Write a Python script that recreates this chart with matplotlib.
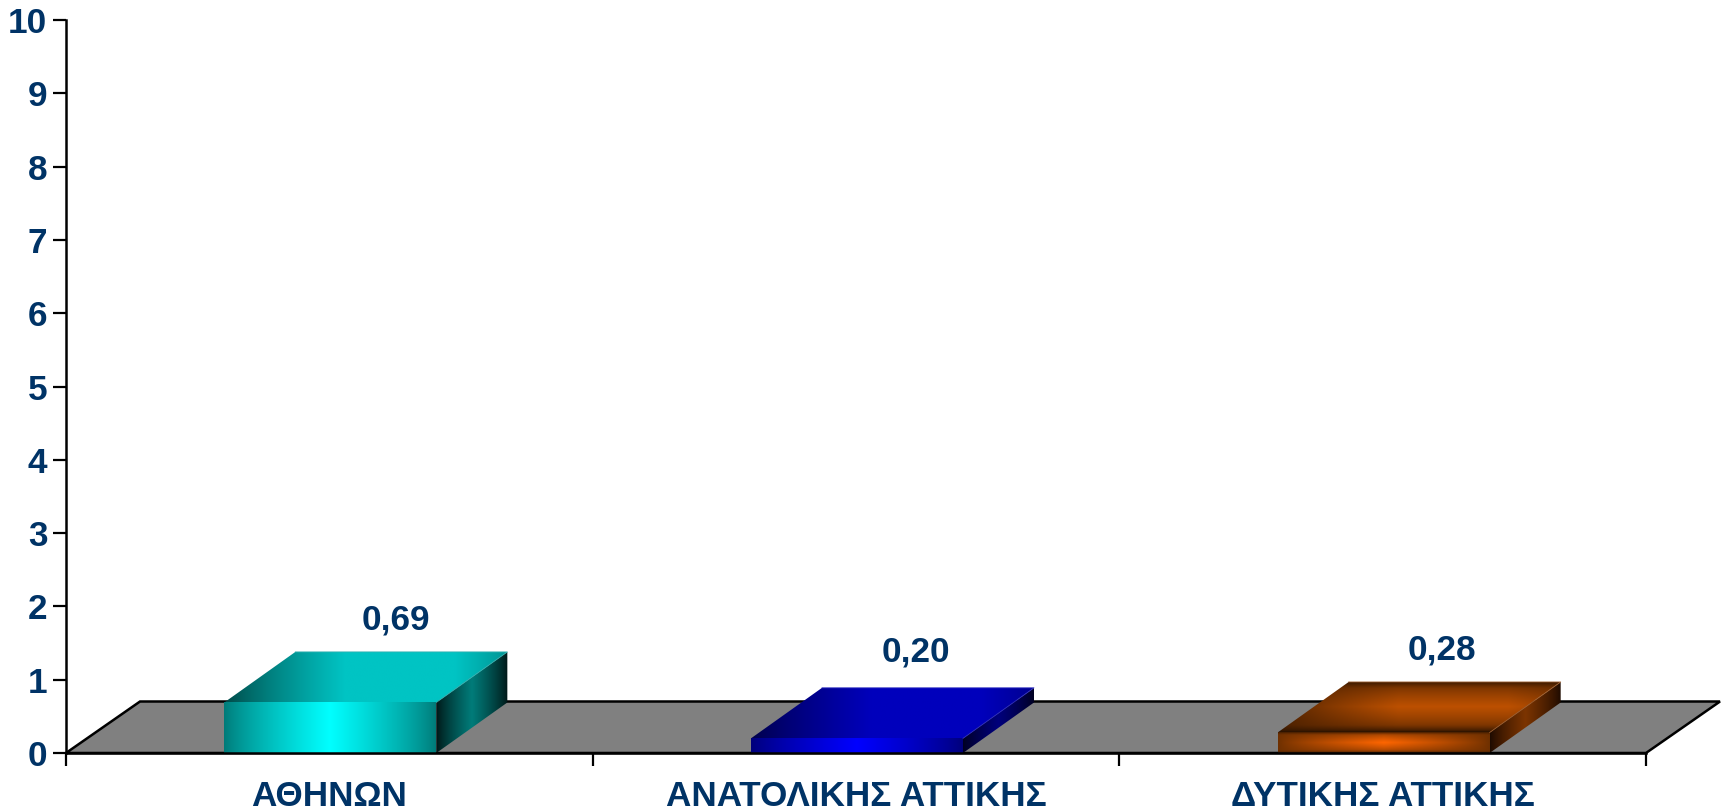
import numpy as np
import matplotlib
matplotlib.use('Agg')
import matplotlib.pyplot as plt
from matplotlib.patches import Polygon
from matplotlib.colors import to_rgb

categories = ['ΑΘΗΝΩΝ', 'ΑΝΑΤΟΛΙΚΗΣ ΑΤΤΙΚΗΣ', 'ΔΥΤΙΚΗΣ ΑΤΤΙΚΗΣ']
values = [0.69, 0.20, 0.28]
value_labels = ['0,69', '0,20', '0,28']
y_ticks = list(range(0, 11))

W, H = 1726, 811
NAVY = '#003366'

# edge and middle colours of each face, (front, top, side)
front_cols = [('#007a78', '#00ffff'), ('#00007a', '#0000ff'), ('#6e3000', '#ff6600')]
top_cols = [('#004644', '#00c4c4'), ('#000048', '#0000bc'), ('#4a2000', '#bc5000')]
side_cols = [('#001414', '#007c7a'), ('#000020', '#00007c'), ('#1c0a00', '#7c3400')]
edge_cols = ['#33b0b0', '#3030c0', '#a06030']
# only the orange bar also darkens top to bottom
vertical_dark = [False, False, True]

plt.rcParams['font.family'] = ['Liberation Sans', 'DejaVu Sans']

fig = plt.figure(figsize=(W / 100, H / 100), dpi=100)
ax = fig.add_axes([66 / W, 1 - 753 / H, 1580 / W, 733 / H])
ax.set_facecolor('none')
ax.set_xlim(0, 3)
ax.set_ylim(0, 10)

px = 3 / 1580
py = 10 / 733
bar_w = 212 * px
depth_x, depth_y = 71 * px, 50.5 * py
floor_x, floor_y = 74 * px, 51.5 * py
FS = 25.3


def gradient_face(corners, edge, mid, vertical=False, peak=0.5, flat=1.0, z=3):
    xs = [c[0] for c in corners]
    ys = [c[1] for c in corners]
    t = np.linspace(0, 1, 256)
    h = np.clip(1 - np.abs(t - peak) / max(peak, 1 - peak), 0, 1) ** 0.8
    h = np.minimum(h * flat, 1)
    h = np.tile(h, (128, 1))
    if vertical:
        v = np.linspace(0, 1, 128)
        v = np.clip(1 - np.abs(v - 0.5) * 2, 0, 1) ** 0.6
        h = h * v[:, None]
    e, m = np.array(to_rgb(edge)), np.array(to_rgb(mid))
    img = e + (m - e) * h[..., None]
    if vertical:
        img = img * (0.55 + 0.45 * np.minimum(v * 2.2, 1))[:, None, None]
    im = ax.imshow(img, extent=(min(xs), max(xs), min(ys), max(ys)), aspect='auto',
                   interpolation='bilinear', origin='lower', zorder=z)
    poly = Polygon(corners, closed=True, transform=ax.transData, fill=False, lw=0)
    im.set_clip_path(poly)
    im.set_clip_box(fig.bbox)


# floor
floor = Polygon([(0, 0), (3, 0), (3 + floor_x, floor_y), (floor_x, floor_y)], closed=True,
                facecolor='#808080', edgecolor='black', lw=1.8, clip_on=False, zorder=1,
                joinstyle='miter')
ax.add_patch(floor)

for i, val in enumerate(values):
    x0 = i + 0.5 - bar_w / 2 + 1 * px
    x1 = x0 + bar_w
    gradient_face([(x0, val), (x1, val), (x1 + depth_x, val + depth_y), (x0 + depth_x, val + depth_y)],
                  top_cols[i][0], top_cols[i][1], vertical_dark[i], peak=0.62, flat=1.35)
    gradient_face([(x1, 0), (x1 + depth_x, depth_y), (x1 + depth_x, val + depth_y), (x1, val)],
                  side_cols[i][0], side_cols[i][1])
    gradient_face([(x0, 0), (x1, 0), (x1, val), (x0, val)],
                  front_cols[i][0], front_cols[i][1], vertical_dark[i])
    # thin lit edge along the back and the right of the top face
    ax.plot([x0 + depth_x, x1 + depth_x, x1], [val + depth_y, val + depth_y, val],
            color=edge_cols[i], lw=0.6, clip_on=False, zorder=4)

# labels sit up and to the right of the bar, as the 3D chart had them
shift_px = [67, 60, 59]
gap_px = [32, 36, 32]
for i, val in enumerate(values):
    ax.text(i + 0.5 + shift_px[i] * px, val + depth_y + gap_px[i] * py, value_labels[i], ha='center',
            va='center', color=NAVY, fontsize=FS, fontweight='bold', clip_on=False, zorder=6)

for s in ['top', 'right']:
    ax.spines[s].set_visible(False)
for s in ['left', 'bottom']:
    ax.spines[s].set_linewidth(1.8)
    ax.spines[s].set_zorder(5)

ax.set_yticks(y_ticks)
ax.set_yticklabels([str(v) for v in y_ticks], color=NAVY, fontsize=FS, fontweight='bold')
ax.tick_params(axis='y', length=9.4, width=1.6, pad=4)
ax.set_xticks(range(4))
ax.set_xticklabels([])
ax.tick_params(axis='x', which='major', length=9.4, width=1.6)
ax.set_xticks(np.arange(3) + 0.5, minor=True)
ax.set_xticklabels(categories, minor=True, color=NAVY, fontsize=FS, fontweight='bold')
ax.tick_params(axis='x', which='minor', length=0, pad=19.3)

fig.savefig('out.png', dpi=100)
